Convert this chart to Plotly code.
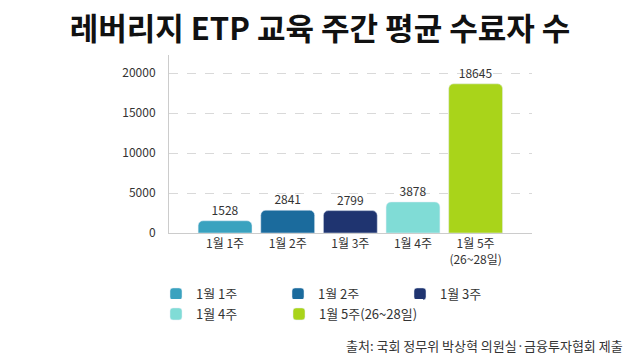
import plotly.graph_objects as go

categories = ["1월 1주", "1월 2주", "1월 3주", "1월 4주", "1월 5주<br>(26~28일)"]
legend_names = ["1월 1주", "1월 2주", "1월 3주", "1월 4주", "1월 5주(26~28일)"]
values = [1528, 2841, 2799, 3878, 18645]
colors = ["#3aa2bf", "#1b6b9d", "#1f3470", "#80dcd6", "#a9d41a"]
ytick_vals = [0, 5000, 10000, 15000, 20000]
ytick_text = ["0", "5000", "10000", "15000", "20000"]
legend_slots = ["legend", "legend", "legend", "legend2", "legend3"]

FONT = "Noto Sans CJK KR"

fig = go.Figure()
for c, n, v, col, lg in zip(categories, legend_names, values, colors, legend_slots):
    fig.add_trace(go.Bar(
        x=[c], y=[v], name=n, marker_color=col, width=0.86,
        text=[str(v)], textposition="outside", cliponaxis=False,
        textfont=dict(size=12, color="#333333", family=FONT),
        legend=lg,
    ))

PL, PW, PT, PH = 169, 363, 55, 178


def px_x(p):
    return (p - PL) / PW


def px_y(p):
    return 1 - (p - PT) / PH


legend_common = dict(orientation="h", xanchor="left", yanchor="middle",
                     entrywidth=84, entrywidthmode="pixels", font=dict(size=13),
                     itemwidth=30, traceorder="normal", indentation=-7)

fig.update_layout(
    width=640, height=360,
    margin=dict(l=PL, r=640 - PL - PW, t=PT, b=360 - PT - PH, autoexpand=False),
    paper_bgcolor="white", plot_bgcolor="white",
    font=dict(family=FONT, color="#333333"),
    barcornerradius=5,
    title=dict(text="<b>레버리지 ETP 교육 주간 평균 수료자 수</b>", x=0.5, xanchor="center",
               y=0.918, yanchor="middle", font=dict(size=31, color="#111111", family=FONT)),
    xaxis=dict(range=[-0.895, 4.9], showline=True, linecolor="#cccccc", linewidth=1,
               ticks="", tickfont=dict(size=12, color="#333333"), showgrid=False),
    yaxis=dict(range=[0, 22250], tickvals=ytick_vals, ticktext=ytick_text, showline=True,
               linecolor="#cccccc", linewidth=1, showgrid=True, gridcolor="#d9d9d9",
               griddash="dash", tickfont=dict(size=12, color="#333333"), ticks="",
               ticklabelstandoff=10, zeroline=False),
    legend=dict(x=px_x(163), y=px_y(294), **legend_common),
    legend2=dict(x=px_x(163), y=px_y(314), **legend_common),
    legend3=dict(x=px_x(286), y=px_y(314), **{**legend_common, "entrywidth": 0}),
    annotations=[dict(text="출처: 국회 정무위 박상혁 의원실·금융투자협회 제출", xref="paper", yref="paper",
                      x=px_x(625), xanchor="right", y=px_y(345), yanchor="middle",
                      showarrow=False, font=dict(size=13, color="#333333", family=FONT))],
)

fig.write_html("out.html", config={"displayModeBar": False},
               post_script="document.body.style.margin='0px';")
